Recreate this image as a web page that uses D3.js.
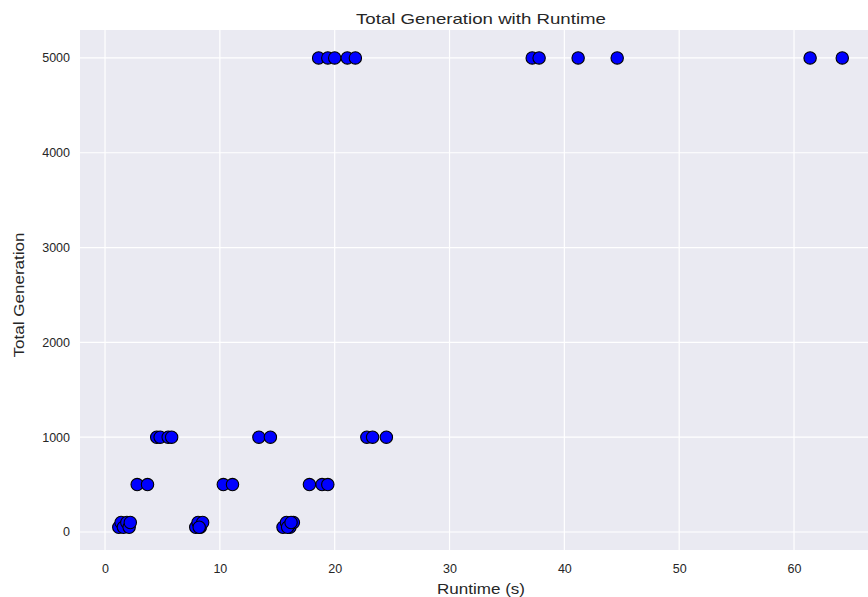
<!DOCTYPE html>
<html>
<head>
<meta charset="utf-8">
<script src="https://cdn.jsdelivr.net/npm/d3@7"></script>
<style>
  body { margin: 0; background: #fff; }
  text { font-family: "Liberation Sans", Arial, sans-serif; fill: #262626; }
</style>
</head>
<body>
<div id="chart"></div>
<script>
var width = 868,
    height = 597;

// runtime (s) and total generation
var runtime = [
  1.2, 1.4, 1.6, 1.9, 2.1, 2.2,
  7.9, 8.1, 8.3, 8.5, 8.2,
  15.5, 15.8, 16.1, 16.4, 15.9, 16.2,
  2.8, 3.7, 10.3, 11.1, 17.8, 18.9, 19.4,
  4.5, 4.8, 5.5, 5.8, 13.4, 14.4, 22.8, 23.3, 24.5,
  18.6, 19.4, 20.0, 21.1, 21.8, 37.2, 37.8, 41.2, 44.6, 61.4, 64.2
];
var generation = [
  50, 100, 50, 100, 50, 100,
  50, 100, 50, 100, 50,
  50, 100, 50, 100, 50, 100,
  500, 500, 500, 500, 500, 500, 500,
  1000, 1000, 1000, 1000, 1000, 1000, 1000, 1000, 1000,
  5000, 5000, 5000, 5000, 5000, 5000, 5000, 5000, 5000, 5000, 5000
];
var xTicks = [0, 10, 20, 30, 40, 50, 60];
var yTicks = [0, 1000, 2000, 3000, 4000, 5000];

var points = runtime.map(function(d, i) { return {x: d, y: generation[i]}; });

var margin = {left: 80, top: 30, right: 879, bottom: 550};

var svg = d3.select("#chart").append("svg")
    .attr("width", width).attr("height", height);

var x = d3.scaleLinear().domain([-2.18, 67.4]).range([margin.left, margin.right]);
var y = d3.scaleLinear().domain([-190, 5295]).range([margin.bottom, margin.top]);

svg.append("rect")
  .attr("x", margin.left).attr("y", margin.top)
  .attr("width", margin.right - margin.left)
  .attr("height", margin.bottom - margin.top)
  .attr("fill", "#eaeaf2");

// grid
svg.append("g").selectAll("line").data(xTicks).enter().append("line")
  .attr("x1", function(d) { return x(d); }).attr("x2", function(d) { return x(d); })
  .attr("y1", margin.top).attr("y2", margin.bottom)
  .attr("stroke", "#fff").attr("stroke-width", 1.2);

svg.append("g").selectAll("line").data(yTicks).enter().append("line")
  .attr("y1", function(d) { return y(d); }).attr("y2", function(d) { return y(d); })
  .attr("x1", margin.left).attr("x2", margin.right)
  .attr("stroke", "#fff").attr("stroke-width", 1.2);

// axes, no domain line or tick marks
var xAxis = svg.append("g")
  .attr("transform", "translate(0," + margin.bottom + ")")
  .call(d3.axisBottom(x).tickValues(xTicks).tickSize(0).tickPadding(14));
var yAxis = svg.append("g")
  .attr("transform", "translate(" + margin.left + ",0)")
  .call(d3.axisLeft(y).tickValues(yTicks).tickFormat(d3.format("d")).tickSize(0).tickPadding(10));

[xAxis, yAxis].forEach(function(a) {
  a.select(".domain").remove();
  a.selectAll("text").style("font-size", "12.5px").attr("fill", "#262626")
    .style("font-family", "'Liberation Sans', Arial, sans-serif");
});

// points
svg.append("g").selectAll("circle").data(points).enter().append("circle")
  .attr("cx", function(d) { return x(d.x); })
  .attr("cy", function(d) { return y(d.y); })
  .attr("r", 6.2)
  .attr("fill", "#0000ff")
  .attr("stroke", "#000")
  .attr("stroke-width", 1.1);

// labels
svg.append("text")
  .attr("x", 481).attr("y", 24)
  .attr("text-anchor", "middle")
  .attr("textLength", 250).attr("lengthAdjust", "spacingAndGlyphs")
  .style("font-size", "15px")
  .text("Total Generation with Runtime");

svg.append("text")
  .attr("x", 481).attr("y", 594)
  .attr("text-anchor", "middle")
  .attr("textLength", 88).attr("lengthAdjust", "spacingAndGlyphs")
  .style("font-size", "14.5px")
  .text("Runtime (s)");

svg.append("text")
  .attr("transform", "translate(24,295) rotate(-90)")
  .attr("text-anchor", "middle")
  .attr("textLength", 125).attr("lengthAdjust", "spacingAndGlyphs")
  .style("font-size", "14.5px")
  .text("Total Generation");
</script>
</body>
</html>
